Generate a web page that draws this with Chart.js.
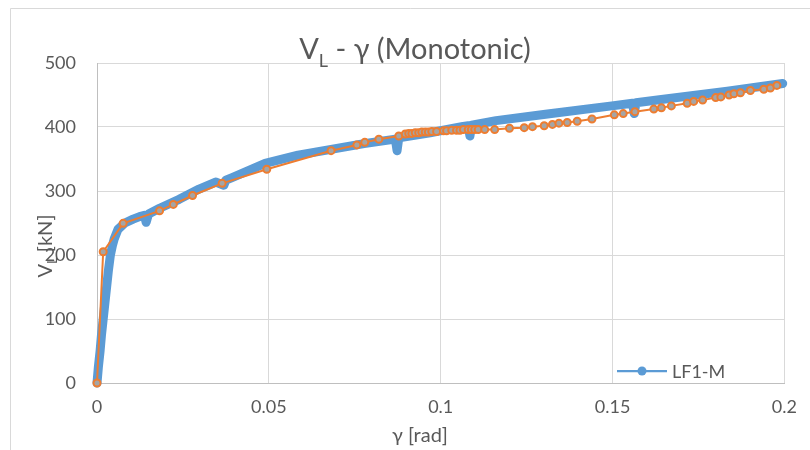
<!DOCTYPE html>
<html>
<head>
<meta charset="utf-8">
<script src="https://cdn.jsdelivr.net/npm/chart.js@4/dist/chart.umd.min.js"></script>
<style>
  html, body { margin: 0; padding: 0; background: #ffffff; }
  #wrap { width: 810px; height: 450px; position: relative; }
</style>
</head>
<body>
<div id="wrap"><canvas id="c" width="810" height="450"></canvas></div>
<script>
// ---- Data ----
// LF1-M test curve (blue): shear rotation gamma [rad] and load V_L [kN]
const lf1mGamma = [0, 0.0004, 0.0009, 0.0013, 0.0018, 0.0023, 0.0028, 0.0033, 0.0039, 0.0045, 0.005, 0.0061, 0.0081, 0.0105, 0.0124, 0.0138, 0.0143, 0.0150, 0.0182, 0.0239, 0.0297, 0.0345, 0.0369, 0.0375, 0.0393, 0.0489, 0.0585, 0.0681, 0.0777, 0.0868, 0.0873, 0.0878, 0.0969, 0.1065, 0.1080, 0.1085, 0.1090, 0.1161, 0.1305, 0.1498, 0.1558, 0.1563, 0.1568, 0.1642, 0.1834, 0.1995];
const lf1mV     = [0, 25, 50, 75, 100, 125, 150, 175, 200, 215, 225, 240, 250, 256, 260, 262, 251, 264, 273, 287, 303, 314, 309, 317, 321, 343, 356, 365, 374, 381, 363, 383, 391, 401, 402, 386, 403, 410, 420, 433, 437, 421, 438, 443, 456, 468];
// Second (orange) curve with markers
const orangeGamma = [0, 0.0018, 0.0076, 0.0182, 0.0222, 0.0278, 0.0364, 0.0494, 0.0681, 0.0756, 0.0779, 0.082, 0.0878, 0.0897, 0.0907, 0.0916, 0.0926, 0.0936, 0.0945, 0.0955, 0.0964, 0.0974, 0.0988, 0.1008, 0.1017, 0.1032, 0.1046, 0.1056, 0.1066, 0.108, 0.1089, 0.1099, 0.1109, 0.1128, 0.1157, 0.12, 0.1243, 0.1267, 0.1301, 0.1325, 0.1344, 0.1368, 0.1397, 0.144, 0.1505, 0.1531, 0.1565, 0.162, 0.1642, 0.1671, 0.1717, 0.1736, 0.1762, 0.18, 0.1815, 0.1839, 0.1853, 0.1872, 0.1901, 0.194, 0.1959, 0.1978];
const orangeV     = [0, 205, 249.5, 269, 279, 293, 312, 334, 363, 372, 376, 381, 386, 389, 390, 390, 391, 391, 392, 392, 392, 393, 393, 394, 394, 395, 395, 395, 396, 396, 396, 396, 396, 396, 396, 398, 399, 400.5, 402, 404, 406, 407, 409, 412.5, 419, 421, 424, 428, 430, 433, 437, 440, 442, 446, 447, 450, 452, 453.6, 457, 459, 461, 465];
// Tick labels
const xTicks = [0, 0.05, 0.1, 0.15, 0.2];
const yTicks = [0, 100, 200, 300, 400, 500];
// Texts
const titleMain = 'V', titleSub = 'L', titleRest = ' - γ (Monotonic)';
const yTitleMain = 'V', yTitleSub = 'L', yTitleRest = ' [kN]';
const xTitle = 'γ [rad]';
const legendLabel = 'LF1-M';

const FONT = 'Lato, "Open Sans", sans-serif';
const TXT = '#595959';
const BLUE = '#5b9bd5';
const ORANGE = '#ed7d31';

const toXY = (xs, ys) => xs.map((x, i) => ({ x: x, y: ys[i] }));

const decorPlugin = {
  id: 'decor',
  beforeDraw(chart) {
    const ctx = chart.ctx;
    ctx.save();
    ctx.fillStyle = '#ffffff';
    ctx.fillRect(0, 0, chart.width, chart.height);
    // outer chart frame (cropped)
    ctx.strokeStyle = '#d9d9d9';
    ctx.lineWidth = 1;
    ctx.beginPath();
    ctx.moveTo(10.5, 460);
    ctx.lineTo(10.5, 8.5);
    ctx.lineTo(820, 8.5);
    ctx.stroke();
    ctx.restore();
  },
  afterDraw(chart) {
    const ctx = chart.ctx;
    ctx.save();
    ctx.fillStyle = TXT;
    ctx.textBaseline = 'alphabetic';
    // ---- Title with subscript ----
    const fMain = '29px ' + FONT, fSub = '18px ' + FONT;
    ctx.font = fMain; const w1 = ctx.measureText(titleMain).width;
    ctx.font = fSub;  const w2 = ctx.measureText(titleSub).width;
    ctx.font = fMain; const w3 = ctx.measureText(titleRest).width;
    let tx = 415 - (w1 + w2 + w3) / 2;
    const ty = 59;
    ctx.textAlign = 'left';
    ctx.font = fMain; ctx.fillText(titleMain, tx, ty); tx += w1;
    ctx.font = fSub;  ctx.fillText(titleSub, tx, ty + 8); tx += w2;
    ctx.font = fMain; ctx.fillText(titleRest, tx, ty);

    // ---- X axis title ----
    ctx.font = '20px ' + FONT;
    ctx.textAlign = 'center';
    ctx.fillText(xTitle, 420, 442);

    // ---- Y axis title (rotated, with subscript) ----
    const gMain = '20px ' + FONT, gSub = '13px ' + FONT;
    ctx.font = gMain; const v1 = ctx.measureText(yTitleMain).width;
    ctx.font = gSub;  const v2 = ctx.measureText(yTitleSub).width;
    ctx.font = gMain; const v3 = ctx.measureText(yTitleRest).width;
    ctx.translate(52, 246);
    ctx.rotate(-Math.PI / 2);
    ctx.textAlign = 'left';
    let yx = -(v1 + v2 + v3) / 2;
    ctx.font = gMain; ctx.fillText(yTitleMain, yx, 0); yx += v1;
    ctx.font = gSub;  ctx.fillText(yTitleSub, yx, 5); yx += v2;
    ctx.font = gMain; ctx.fillText(yTitleRest, yx, 0);
    ctx.setTransform(1, 0, 0, 1, 0, 0);

    // ---- Legend (line + marker + label) ----
    const ly = 371;
    ctx.strokeStyle = BLUE;
    ctx.lineWidth = 2.25;
    ctx.beginPath();
    ctx.moveTo(617, ly);
    ctx.lineTo(667, ly);
    ctx.stroke();
    ctx.fillStyle = BLUE;
    ctx.beginPath();
    ctx.arc(642, ly, 4.5, 0, Math.PI * 2);
    ctx.fill();
    ctx.fillStyle = TXT;
    ctx.font = '18px ' + FONT;
    ctx.textAlign = 'left';
    ctx.textBaseline = 'middle';
    ctx.fillText(legendLabel, 672, ly + 1);
    ctx.restore();
  }
};

new Chart(document.getElementById('c'), {
  type: 'scatter',
  data: {
    datasets: [
      {
        label: 'orange',
        data: toXY(orangeGamma, orangeV),
        showLine: true,
        borderColor: ORANGE,
        borderWidth: 2,
        pointRadius: 3.5,
        pointBorderWidth: 2,
        pointBorderColor: ORANGE,
        pointBackgroundColor: '#a5a5a5',
        order: 0,
        clip: 10
      },
      {
        label: legendLabel,
        data: toXY(lf1mGamma, lf1mV),
        showLine: true,
        borderColor: BLUE,
        borderWidth: 9,
        borderCapStyle: 'round',
        borderJoinStyle: 'round',
        pointRadius: 0,
        pointHoverRadius: 0,
        order: 1,
        clip: 10
      }
    ]
  },
  options: {
    responsive: false,
    animation: false,
    devicePixelRatio: 1,
    layout: { padding: { top: 63, right: 19, left: 0, bottom: 0 } },
    plugins: {
      legend: { display: false },
      title: { display: false },
      tooltip: { enabled: false }
    },
    scales: {
      x: {
        type: 'linear',
        min: 0, max: 0.2,
        afterBuildTicks: s => { s.ticks = xTicks.map(v => ({ value: v })); },
        afterFit: s => { s.height = 67; },
        grid: { color: '#d9d9d9', lineWidth: 1, drawTicks: false },
        border: { color: '#bfbfbf', width: 1 },
        ticks: {
          padding: 13,
          color: TXT,
          font: { family: FONT, size: 18 },
          maxRotation: 0,
          callback: v => String(Number(Number(v).toFixed(2)))
        }
      },
      y: {
        type: 'linear',
        min: 0, max: 500,
        afterBuildTicks: s => { s.ticks = yTicks.map(v => ({ value: v })); },
        afterFit: s => { s.width = 97; },
        grid: { color: '#d9d9d9', lineWidth: 1, drawTicks: false },
        border: { color: '#bfbfbf', width: 1 },
        ticks: {
          padding: 21,
          color: TXT,
          font: { family: FONT, size: 18 },
          callback: v => String(v)
        }
      }
    }
  },
  plugins: [decorPlugin]
});
</script>
</body>
</html>
